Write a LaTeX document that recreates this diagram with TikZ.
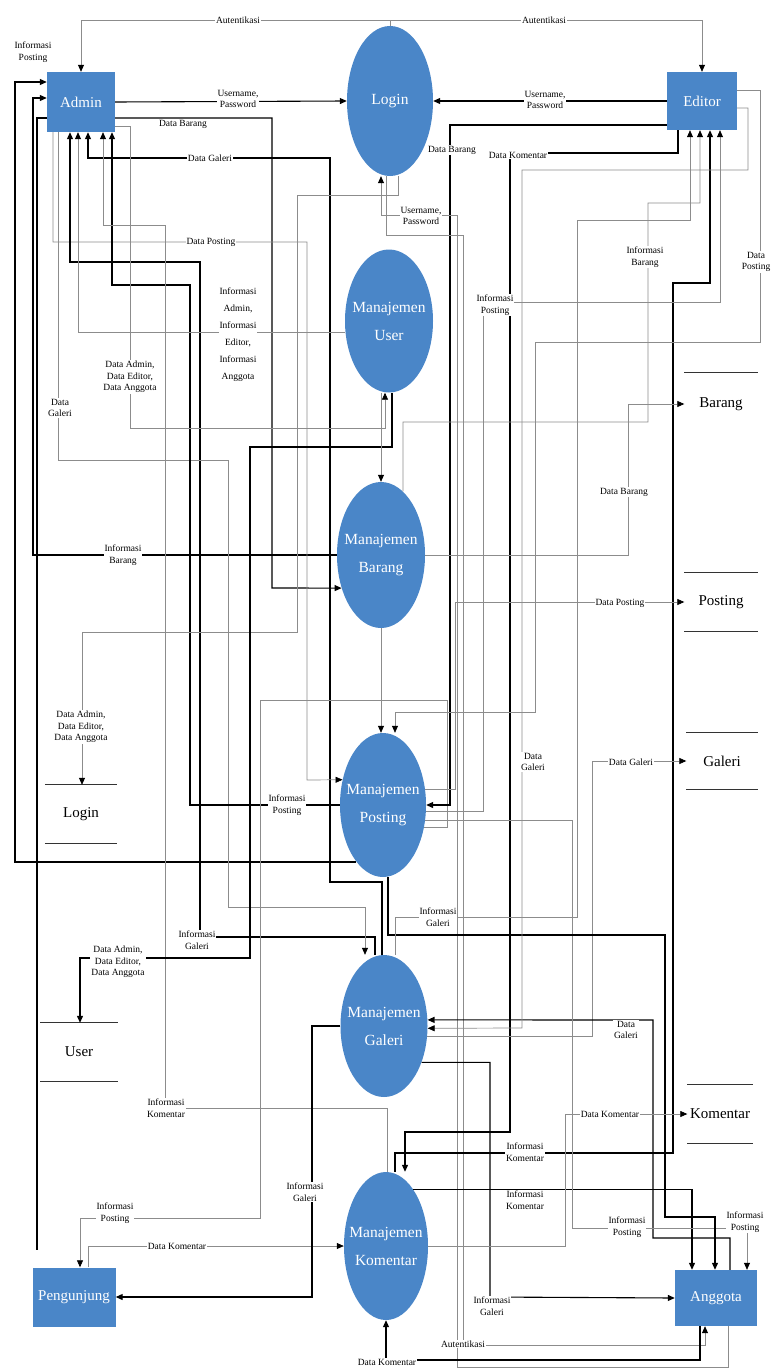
\documentclass[tikz,border=0pt]{standalone}
\usepackage{fontspec}
\setmainfont{Liberation Serif}
\usepackage{xcolor}
\definecolor{procblue}{HTML}{4A86C8}
\usetikzlibrary{arrows.meta, shapes.geometric}

\tikzset{
  ent/.style={rectangle, fill=procblue, text=white, minimum width=70pt, minimum height=58pt, font=\fontsize{15}{18}\selectfont},
  proc/.style={ellipse, fill=procblue, inner sep=0pt},
  ptext/.style={text=white, align=center, font=\fontsize{15.5}{28}\selectfont},
  store/.style={minimum width=73pt, minimum height=58pt, inner sep=0pt, font=\fontsize{15}{18}\selectfont},
  storeline/.style={line width=1.2pt, black!80},
  lbl/.style={fill=white, inner sep=1pt, align=center, font=\fontsize{9.5}{11.5}\selectfont},
  dfdtip/.style={-{Triangle[length=7pt,width=6pt,color=black]}},
  fl/.style={draw=black, line width=1.1pt, dfdtip},
  gl/.style={draw=black!45, line width=0.7pt, dfdtip},
  ln/.style={draw=black, line width=1.1pt}
}

\begin{document}
\begin{tikzpicture}[x=1pt, y=-1pt]
  \useasboundingbox (0,0) rectangle (773,1370);

  % external entities
  \node[ent, minimum width=68pt, minimum height=60pt] (admin) at (81,102) {Admin};
  \node[ent] (editor) at (702,101) {Editor};
  \node[ent, minimum width=83pt, minimum height=59pt] (pengunjung) at (74,1297) {Pengunjung};
  \node[ent, minimum width=82pt, minimum height=56pt] (anggota) at (716,1298) {Anggota};

  % processes
  \node[proc, minimum width=86pt, minimum height=150pt] (login) at (390,101) {};
  \node[ptext] (tlogin) at (login) {Login};
  \node[proc, minimum width=88pt, minimum height=143pt] (muser) at (389,321) {};
  \node[ptext] (tuser) at (muser) {Manajemen\\User};
  \node[proc, minimum width=88pt, minimum height=146pt] (mbarang) at (381,555) {};
  \node[ptext] (tbarang) at (mbarang) {Manajemen\\Barang};
  \node[proc, minimum width=86pt, minimum height=144pt] (mposting) at (383,805) {};
  \node[ptext] (tposting) at (mposting) {Manajemen\\Posting};
  \node[proc, minimum width=87pt, minimum height=142pt] (mgaleri) at (384,1026) {};
  \node[ptext] (tgaleri) at (mgaleri) {Manajemen\\Galeri};
  \node[proc, minimum width=84pt, minimum height=148pt] (mkomentar) at (386,1246) {};
  \node[ptext] (tkomentar) at (mkomentar) {Manajemen\\Komentar};

  % data stores
  \node[store, minimum height=62pt] (sbarang) at (721,404) {Barang};
  \draw[storeline] (sbarang.north west) -- (sbarang.north east);
  \node[store, minimum height=59pt] (sposting) at (721,602) {Posting};
  \draw[storeline] (sposting.north west) -- (sposting.north east) (sposting.south west) -- (sposting.south east);
  \node[store, minimum width=71pt, minimum height=57pt] (sgaleri) at (722,761) {Galeri};
  \draw[storeline] (sgaleri.north west) -- (sgaleri.north east) (sgaleri.south west) -- (sgaleri.south east);
  \node[store, minimum width=65pt, minimum height=58pt] (skomentar) at (720,1114) {Komentar};
  \draw[storeline] (skomentar.north west) -- (skomentar.north east) (skomentar.south west) -- (skomentar.south east);
  \node[store, minimum width=72pt] (slogin) at (81,814) {Login};
  \draw[storeline] (slogin.north west) -- (slogin.north east) (slogin.south west) -- (slogin.south east);
  \node[store, minimum width=77pt] (suser) at (79,1052) {User};
  \draw[storeline] (suser.north west) -- (suser.north east) (suser.south west) -- (suser.south east);

  % flows at the top
  \draw[gl] (login.north) |- (admin.north |- 0,20) -- (admin.north);
  \draw[gl] (login.north) |- (editor.north |- 0,20) -- (editor.north);
  \draw[fl] (admin.east) -- (login.west);
  \draw[fl] (editor.west) -- (login.east);

  % flows on the left
  \draw[fl] (mposting.245) -| (15,82) -- (admin.west |- 0,82);
  \draw[fl] (mbarang.west) -| (33,98) -- (admin.west |- 0,98);
  \coordinate (pgend) at (37,1250);
  \draw[ln] (admin.west |- 0,118) -- (37,118) -- (pgend);
  \draw[fl] (mgaleri.north -| 382,0) -- (382,882) -- (330,882) -- (330,158) -| (admin.south -| 88,0);
  \draw[fl] (admin.east |- 0,118) -| (272,588) -- (mbarang.220);
  \draw[gl] (admin.south -| 53,0) -- (53,242) -| (307,780) -- (mposting.148);
  \draw[fl] (mgaleri.north -| 375,0) -- (375,937) -| (200,262) -| (admin.south -| 70,0);
  \draw[gl] (admin.south -| 58,0) -- (58,460) -| (228,907) -| (mgaleri.north -| 365,0);
  \draw[fl] (mposting.west) -| (190,285) -| (admin.south -| 112,0);
  \draw[gl] (muser.195) -| (admin.south -| 78,0);
  \draw[gl] (mkomentar.north -| 387,0) -- (387,1108) -| (165,225) -| (admin.south -| 103,0);
  \draw[gl] (admin.east |- 0,126) -| (130,428) -| (muser.south -| 385,0);
  \draw[gl] (login.south -| 398,0) -- (398,195) -| (297,632) -| (slogin.north -| 82,0);
  \draw[fl] (muser.south -| 392,0) -- (392,447) -| (250,958) -| (suser.north -| 80,0);
  \draw[gl] (mposting.332) -| (447,700) -| (260,1218) -| (pengunjung.north -| 80,0);
  \draw[gl] (pengunjung.north -| 88,0) |- (mkomentar.west);
  \draw[fl] (mgaleri.west) -| (312,1297) -- (pengunjung.east);

  % flows on the right
  \draw[fl] (editor.west |- 0,125) -| (450,805) -- (mposting.east);
  \draw[gl] (login.south -| 386,0) -- (386,235) -| (463,1345) -| (anggota.south -| 705,0);
  \draw[gl] (anggota.south -| 728,0) -- (728,1367) -| (457,215) -| (login.south -| 381,0);
  \draw[fl] (editor.south -| 678,0) -- (678,153) -| (510,1132) -| (mkomentar.north -| 405,0);
  \draw[fl] (mkomentar.north -| 395,0) -- (395,1153) -| (673,283) -| (editor.south -| 710,0);
  \draw[fl] (mkomentar.64) -| (anggota.north -| 692,0);
  \draw[fl] (mgaleri.316) -| (490,1297) -- (anggota.west);
  \draw[gl] (mgaleri.347) -| (sgaleri.west -| 592,0) -- (sgaleri.west);
  \draw[fl] (anggota.north -| 730,0) -- (730,1238) -| (653,1020) -- (mgaleri.8);
  \draw[gl] (mposting.340) -| (572,1228) -| (anggota.north -| 747,0);
  \draw[fl] (mposting.south -| 388,0) -- (388,935) -| (665,1217) -| (anggota.north -| 715,0);
  \draw[gl] (mgaleri.north -| 395,0) -- (395,917) -| (577,220) -| (editor.south -| 690,0);
  \draw[gl] (mbarang.east) -| (sbarang.west -| 628,0) -- (sbarang.west);
  \draw[gl] (mbarang.71) -- (403,422) -| (648,203) -| (editor.south -| 700,0);
  \draw[gl] (muser.south -| 381,0) -- (mbarang.north);
  \draw[gl] (mbarang.south) -- (mposting.north -| 381,0);
  \draw[gl] (mposting.20) -| (sposting.west -| 455,0) -- (sposting.west);
  \draw[gl] (editor.east |- 0,90) -| (760,342) -| (535,712) -| (mposting.north -| 395,0);
  \draw[gl] (mkomentar.east) -| (skomentar.west -| 565,0) -- (skomentar.west);
  \draw[fl] (anggota.south -| 700,0) |- (mkomentar.south |- 0,1360) -- (mkomentar.south);
  \draw[gl] (editor.east |- 0,108) -| (748,170) -| (522,1028) -- (mgaleri.357);
  \draw[gl] (mposting.352) -| (483,302) -| (editor.south -| 720,0);

  % labels
  \node[lbl] (l1) at (238,20) {Autentikasi};
  \node[lbl] (l2) at (544,20) {Autentikasi};
  \node[lbl] (l3) at (238,99) {Username,\\Password};
  \node[lbl] (l4) at (545,100) {Username,\\Password};
  \node[lbl] (l5) at (421,216) {Username,\\Password};
  \node[lbl] (l6) at (33,52) {Informasi\\Posting};
  \node[lbl] (l7) at (183,124) {Data Barang};
  \node[lbl] (l8) at (210,158) {Data Galeri};
  \node[lbl] (l9) at (211,242) {Data Posting};
  \node[lbl, font=\fontsize{9.5}{17}\selectfont] (l10) at (238,335) {Informasi\\Admin,\\Informasi\\Editor,\\Informasi\\Anggota};
  \node[lbl] (l11) at (130,377) {Data Admin,\\Data Editor,\\Data Anggota};
  \node[lbl] (l12) at (60,408) {Data\\Galeri};
  \node[lbl] (l13) at (123,555) {Informasi\\Barang};
  \node[lbl] (l14) at (81,727) {Data Admin,\\Data Editor,\\Data Anggota};
  \node[lbl] (l15) at (287,805) {Informasi\\Posting};
  \node[lbl] (l16) at (197,940) {Informasi\\Galeri};
  \node[lbl] (l17) at (118,962) {Data Admin,\\Data Editor,\\Data Anggota};
  \node[lbl] (l18) at (166,1108) {Informasi\\Komentar};
  \node[lbl] (l19) at (115,1213) {Informasi\\Posting};
  \node[lbl] (l20) at (177,1246) {Data Komentar};
  \node[lbl] (l21) at (305,1192) {Informasi\\Galeri};
  \node[lbl] (l22) at (452,150) {Data Barang};
  \node[lbl] (l23) at (518,155) {Data Komentar};
  \node[lbl] (l24) at (645,257) {Informasi\\Barang};
  \node[lbl] (l25) at (756,262) {Data\\Posting};
  \node[lbl] (l26) at (495,305) {Informasi\\Posting};
  \node[lbl] (l27) at (624,492) {Data Barang};
  \node[lbl] (l28) at (620,603) {Data Posting};
  \node[lbl] (l29) at (533,762) {Data\\Galeri};
  \node[lbl] (l30) at (631,762) {Data Galeri};
  \node[lbl] (l31) at (438,917) {Informasi\\Galeri};
  \node[lbl] (l32) at (626,1030) {Data\\Galeri};
  \node[lbl] (l33) at (610,1114) {Data Komentar};
  \node[lbl] (l34) at (525,1152) {Informasi\\Komentar};
  \node[lbl] (l35) at (525,1200) {Informasi\\Komentar};
  \node[lbl] (l36) at (627,1227) {Informasi\\Posting};
  \node[lbl] (l37) at (745,1222) {Informasi\\Posting};
  \node[lbl] (l38) at (492,1306) {Informasi\\Galeri};
  \node[lbl] (l39) at (463,1344) {Autentikasi};
  \node[lbl] (l40) at (387,1362) {Data Komentar};
\end{tikzpicture}
\end{document}
